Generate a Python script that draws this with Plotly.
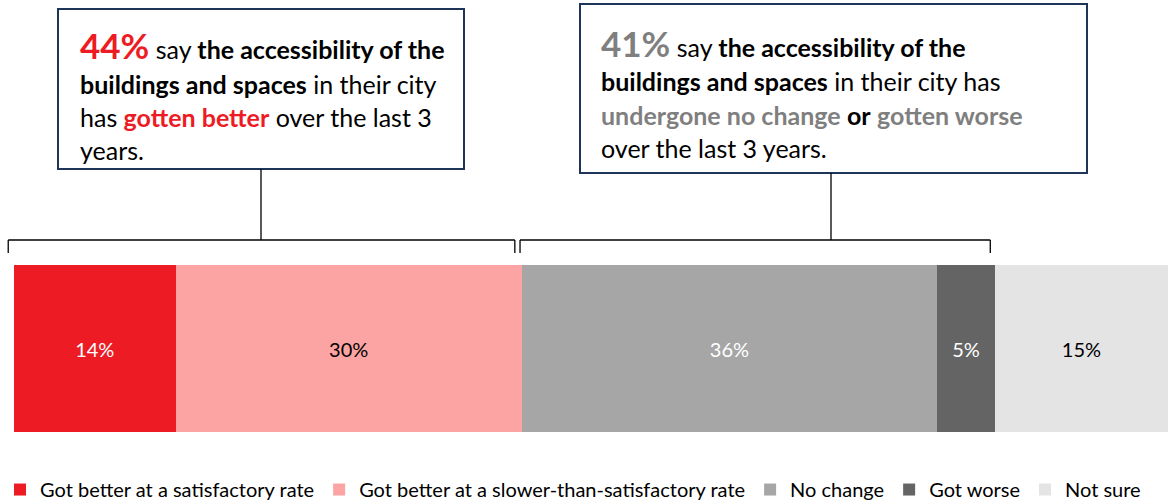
import plotly.graph_objects as go

# Survey responses: change in accessibility of buildings and spaces
categories = [
    "Got better at a satisfactory rate",
    "Got better at a slower-than-satisfactory rate",
    "No change",
    "Got worse",
    "Not sure",
]
shares = [14, 30, 36, 5, 15]
bar_colors = ["#ED1C24", "#FCA3A3", "#A6A6A6", "#646464", "#E4E4E4"]
label_colors = ["#FFFFFF", "#000000", "#FFFFFF", "#FFFFFF", "#000000"]

better_share = 44
unchanged_or_worse_share = 41

W, H = 1172, 502
FONT = "Lato"

fig = go.Figure()
for cat, val, col, lcol in zip(categories, shares, bar_colors, label_colors):
    fig.add_trace(go.Bar(
        x=[val], y=[0], orientation="h", name=cat, width=1,
        marker=dict(color=col, line=dict(width=0)),
        text=[f"{val}%"], textposition="inside", insidetextanchor="middle",
        textfont=dict(color=lcol, size=20, family=FONT),
        hoverinfo="skip",
    ))

total = sum(shares)
plot_left, plot_right = 14, 1168
ppu = (plot_right - plot_left) / total


def px(x):
    return x / W


def py(y):
    return 1 - y / H


shapes = []
# callout boxes
boxes = [(58, 9, 464, 169), (580, 4, 1087, 173)]
for x0, y0, x1, y1 in boxes:
    shapes.append(dict(type="rect", xref="paper", yref="paper",
                       x0=px(x0), x1=px(x1), y0=py(y0), y1=py(y1),
                       line=dict(color="#1F3459", width=2), fillcolor="rgba(0,0,0,0)"))

# brackets over the stacked segments
cum = [sum(shares[:i]) for i in range(len(shares) + 1)]
bracket_y, tick_y = py(240), py(253)
brackets = [
    (cum[0] - 0.5, cum[2] - 0.6, 261, 169),
    (cum[2] - 0.15, cum[4] - 0.4, 831, 173),
]
line_style = dict(color="#000000", width=1.3)
for bx0, bx1, stem_x, stem_top in brackets:
    shapes.append(dict(type="line", xref="x", yref="paper", x0=bx0, x1=bx1,
                       y0=bracket_y, y1=bracket_y, line=line_style))
    for bx in (bx0, bx1):
        shapes.append(dict(type="line", xref="x", yref="paper", x0=bx, x1=bx,
                           y0=bracket_y, y1=tick_y, line=line_style))
    shapes.append(dict(type="line", xref="paper", yref="paper", x0=px(stem_x), x1=px(stem_x),
                       y0=py(stem_top), y1=bracket_y, line=line_style))

RED = "#ED1C24"
GREY = "#7F7F7F"
left_lines = [
    f"<span style='font-size:35px;color:{RED}'><b>{better_share}%</b></span> say <b>the accessibility of the</b>",
    "<b>buildings and spaces</b> in their city",
    f"has <b><span style='color:{RED}'>gotten better</span></b> over the last 3",
    "years.",
]
right_lines = [
    f"<span style='font-size:35px;color:{GREY}'><b>{unchanged_or_worse_share}%</b></span> say <b>the accessibility of the</b>",
    "<b>buildings and spaces</b> in their city has",
    f"<b><span style='color:{GREY}'>undergone no change</span></b> <b>or</b> <b><span style='color:{GREY}'>gotten worse</span></b>",
    "over the last 3 years.",
]
annotations = []
for x0, lines, ys in [(78, left_lines, [45, 84, 117, 150]), (599, right_lines, [43, 81, 115, 148])]:
    for txt, y in zip(lines, ys):
        annotations.append(dict(text=txt, xref="paper", yref="paper", x=px(x0), y=py(y),
                                xanchor="left", yanchor="middle", showarrow=False,
                                font=dict(size=25, color="#000000", family=FONT)))

fig.update_layout(
    width=W, height=H,
    margin=dict(l=0, r=0, t=0, b=0, autoexpand=False),
    paper_bgcolor="white", plot_bgcolor="white",
    barmode="stack",
    xaxis=dict(range=[-plot_left / ppu, total + (W - plot_right) / ppu],
               visible=False, fixedrange=True),
    yaxis=dict(domain=[py(432), py(265)], range=[-0.5, 0.5], visible=False),
    showlegend=True,
    legend=dict(orientation="h", x=0, xanchor="left", y=-0.014, yanchor="bottom",
                font=dict(size=20, family=FONT, color="#000000"), traceorder="normal",
                itemclick=False, bgcolor="rgba(0,0,0,0)"),
    shapes=shapes,
    annotations=annotations,
    font=dict(family=FONT),
)

fig.write_html("out.html")
